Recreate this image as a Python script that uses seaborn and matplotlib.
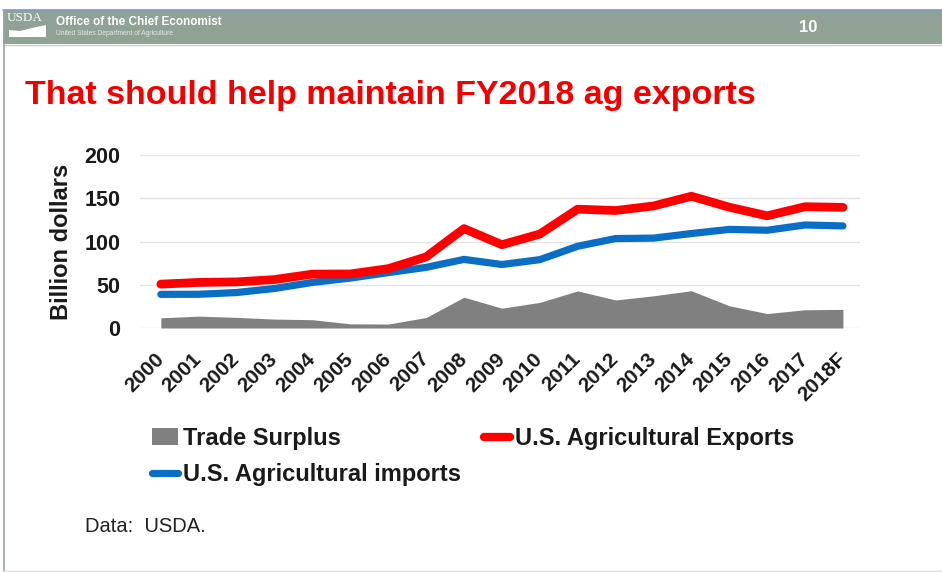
import matplotlib
matplotlib.use("Agg")
import matplotlib.pyplot as plt
import seaborn as sns
import pandas as pd
from matplotlib.patches import Rectangle, Patch, Polygon
from matplotlib.lines import Line2D

# ---- data ----
years = ["2000", "2001", "2002", "2003", "2004", "2005", "2006", "2007", "2008",
         "2009", "2010", "2011", "2012", "2013", "2014", "2015", "2016", "2017", "2018F"]
exports = [50.7, 52.7, 53.3, 56.0, 62.3, 62.5, 68.6, 82.2, 114.9, 96.3, 108.6,
           137.4, 135.8, 141.1, 152.3, 139.7, 129.7, 140.2, 139.5]
imports = [38.9, 39.0, 41.0, 45.7, 52.7, 57.7, 64.0, 70.1, 79.3, 73.4, 79.0,
           94.5, 103.4, 103.9, 109.2, 114.0, 113.0, 119.1, 118.0]
surplus = [11.8, 13.7, 12.3, 10.3, 9.6, 4.8, 4.6, 12.1, 35.6, 22.9, 29.6,
           42.9, 32.4, 37.2, 43.1, 25.7, 16.7, 21.1, 21.5]
y_ticks = [0, 50, 100, 150, 200]

title = "That should help maintain FY2018 ag exports"
ylabel = "Billion dollars"
legend_labels = ["Trade Surplus", "U.S. Agricultural imports", "U.S. Agricultural Exports"]
source = "Data:  USDA."

sns.set_style("white")
plt.rcParams["font.family"] = ["Liberation Sans", "DejaVu Sans"]

W, H = 942, 572
fig = plt.figure(figsize=(W / 100, H / 100), dpi=100)
fig.patch.set_facecolor("white")

def fx(px):
    return px / W

def fy(py):
    return 1 - py / H

# ---- slide header ----
fig.patches.append(Rectangle((fx(3), fy(44)), fx(942) - fx(3), fy(10) - fy(44),
                             transform=fig.transFigure, facecolor="#8fa294",
                             edgecolor="none", zorder=0))
fig.lines.append(Line2D([fx(3), fx(942)], [fy(10), fy(10)], transform=fig.transFigure,
                        color="#7f9cc4", lw=1.2))
fig.lines.append(Line2D([fx(3), fx(942)], [fy(44.5), fy(44.5)], transform=fig.transFigure,
                        color="#c5d0c8", lw=1.0))
fig.lines.append(Line2D([fx(3.5), fx(3.5)], [fy(10), fy(572)], transform=fig.transFigure,
                        color="#9aa3ad", lw=1.2))
fig.lines.append(Line2D([fx(3), fx(942)], [fy(570.5), fy(570.5)], transform=fig.transFigure,
                        color="#dcdcdc", lw=1.0))
fig.text(fx(7), fy(18), "USDA", color="white", fontsize=9.5,
         family=["Liberation Serif", "DejaVu Serif"], va="center", ha="left")
fig.patches.append(Polygon([(fx(9), fy(37)), (fx(9), fy(30)), (fx(20), fy(31)),
                            (fx(32), fy(28)), (fx(46), fy(25)), (fx(46), fy(37))],
                           closed=True, transform=fig.transFigure, facecolor="white",
                           edgecolor="none"))
fig.text(fx(56), fy(22), "Office of the Chief Economist", color="white", fontsize=8.5,
         fontweight="bold", va="center", ha="left")
fig.text(fx(56), fy(33.5), "United States Department of Agriculture", color="#e6ece8",
         fontsize=4.8, va="center", ha="left")
fig.text(fx(808), fy(28), "10", color="white", fontsize=12, fontweight="bold",
         va="center", ha="center")

# ---- title ----
fig.text(fx(25), fy(104), title, color="#f40000", fontsize=24.5, fontweight="bold",
         va="baseline", ha="left")

# ---- chart ----
ax = fig.add_axes([fx(140), fy(328), fx(860) - fx(140), fy(155) - fy(328)])
x = list(range(len(years)))
df = pd.DataFrame({"x": x, "exports": exports, "imports": imports, "surplus": surplus})

ax.fill_between(df["x"], 0, df["surplus"], color="#808080", linewidth=0, zorder=2)
sns.lineplot(data=df, x="x", y="imports", ax=ax, color="#0a6ec4", linewidth=5.2,
             solid_capstyle="round", zorder=3)
sns.lineplot(data=df, x="x", y="exports", ax=ax, color="#ff0000", linewidth=6.3,
             solid_capstyle="round", zorder=4)

ax.set_xlim(-0.55, len(years) - 1 + 0.45)
ax.set_ylim(0, 200)
ax.set_yticks(y_ticks)
ax.set_yticklabels([str(v) for v in y_ticks])
ax.set_xticks(x)
ax.set_xticklabels(years, rotation=45, ha="right", va="center", rotation_mode="anchor")
ax.set_xlabel("")
ax.set_ylabel(ylabel, fontsize=17, fontweight="bold", color="#1a1a1a", labelpad=8)
ax.grid(axis="y", color="#e3e3e3", linewidth=1.0, zorder=0)
ax.set_axisbelow(True)
for s in ax.spines.values():
    s.set_visible(False)
ax.tick_params(axis="y", length=0, pad=14, labelsize=15.5, labelcolor="#1a1a1a")
ax.tick_params(axis="x", length=0, pad=20, labelsize=15, labelcolor="#1a1a1a")
for lab in ax.get_yticklabels() + ax.get_xticklabels():
    lab.set_fontweight("bold")

# ---- legend ----
handles = [
    Patch(facecolor="#808080", edgecolor="none"),
    Line2D([0], [0], color="#0a6ec4", lw=5.2, solid_capstyle="round"),
    Line2D([0], [0], color="#ff0000", lw=6.0, solid_capstyle="round"),
]
leg = fig.legend(handles, legend_labels, loc="upper left",
                 bbox_to_anchor=(fx(152), fy(427)), bbox_transform=fig.transFigure,
                 ncol=2, frameon=False, borderpad=0, borderaxespad=0,
                 handlelength=1.1, handletextpad=0.2, columnspacing=1.0,
                 labelspacing=0.55, prop={"size": 17, "weight": "bold"})
for t in leg.get_texts():
    t.set_color("#1a1a1a")

# ---- source ----
fig.text(fx(85), fy(527), source, fontsize=14.5, color="#222222", va="center", ha="left")

fig.savefig("out.png", dpi=100, facecolor="white")
